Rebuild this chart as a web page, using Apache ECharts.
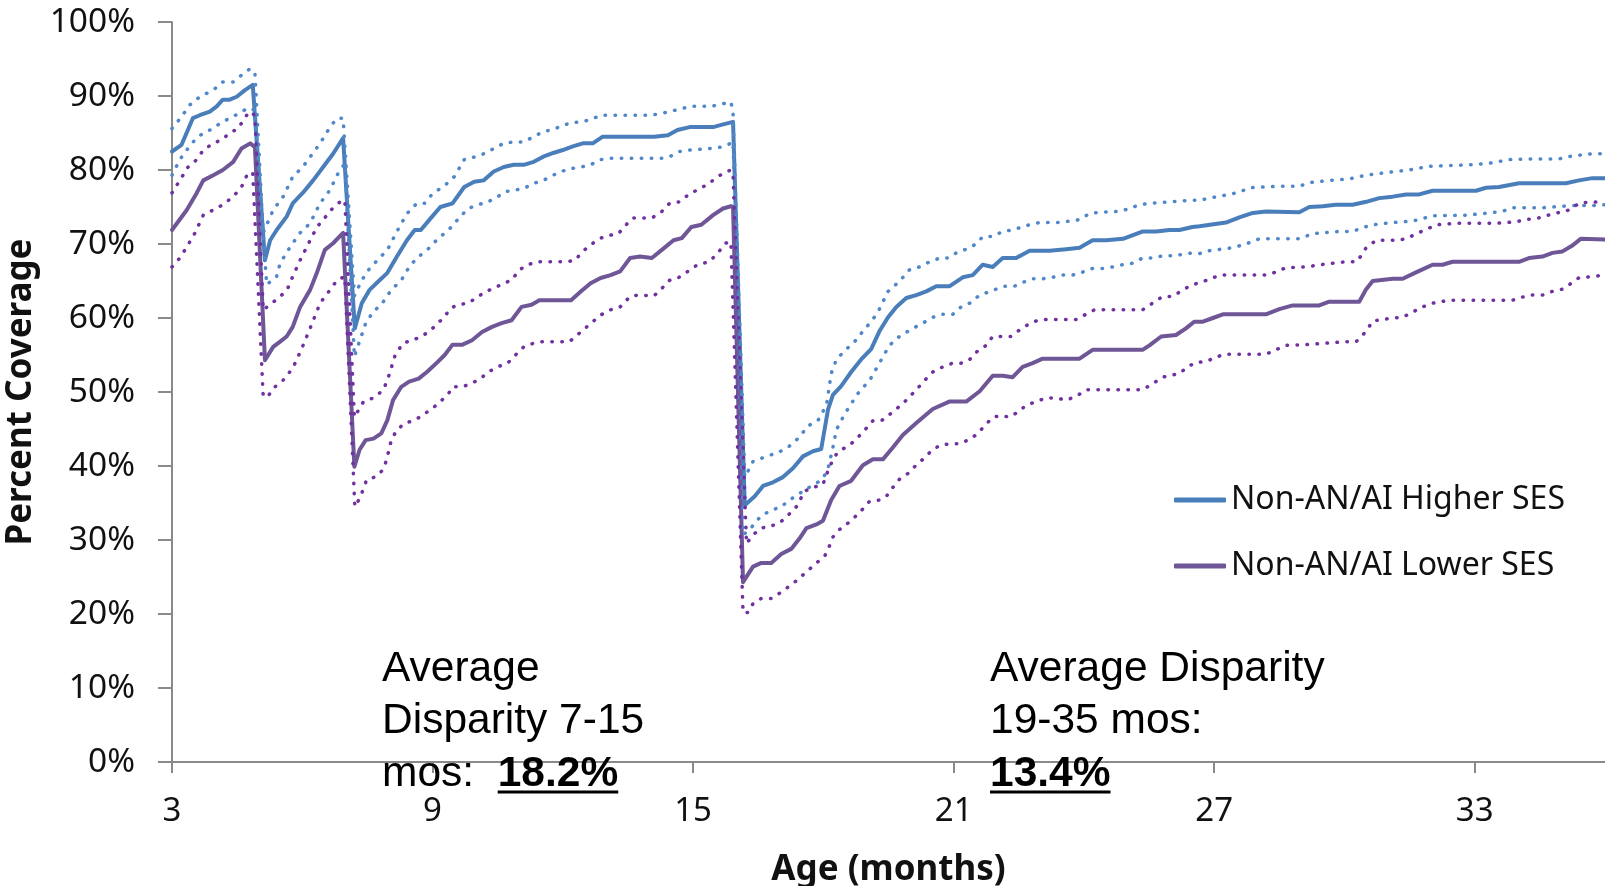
<!DOCTYPE html>
<html><head><meta charset="utf-8">
<script src="https://cdn.jsdelivr.net/npm/echarts@6/dist/echarts.min.js"></script>
<style>html,body{margin:0;padding:0;background:#fff}#c{width:1605px;height:886px}</style>
</head><body><div id="c"></div>
<script>
// ---- data (age in months, percent coverage) ----
const xTickValues = [3, 9, 15, 21, 27, 33];
const seriesNames = ['Non-AN/AI Higher SES', 'Non-AN/AI Lower SES'];

const higherSES = [[3.0,82.5],[3.22,83.4],[3.48,87.0],[3.64,87.4],[3.87,87.9],[4.03,88.6],[4.17,89.5],[4.33,89.5],[4.49,89.9],[4.68,90.8],[4.86,91.5],
[5.14,67.8],[5.26,70.5],[5.41,71.9],[5.64,73.7],[5.78,75.5],[6.01,76.9],[6.25,78.6],[6.52,80.7],[6.71,82.2],[6.94,84.3],
[7.21,58.6],[7.37,62.0],[7.55,63.8],[7.78,65.1],[7.96,66.1],[8.18,68.3],[8.41,70.5],[8.59,71.9],[8.73,71.9],[8.96,73.5],[9.18,75.0],[9.46,75.5],[9.73,77.7],[9.96,78.4],[10.18,78.6],[10.41,79.8],[10.64,80.4],[10.87,80.7],[11.1,80.7],[11.33,81.1],[11.55,81.8],[11.78,82.3],[12.0,82.7],[12.23,83.2],[12.46,83.6],[12.69,83.6],[12.92,84.5],[13.19,84.5],[13.64,84.5],[14.1,84.5],[14.42,84.7],[14.64,85.4],[14.92,85.8],[15.46,85.8],[15.65,86.1],[15.92,86.5],
[16.19,34.7],[16.42,35.9],[16.61,37.3],[16.84,37.8],[17.07,38.5],[17.3,39.7],[17.53,41.3],[17.76,42.0],[17.95,42.3],[18.11,47.7],[18.22,49.6],[18.41,50.8],[18.64,52.7],[18.87,54.4],[19.1,55.8],[19.29,58.2],[19.49,60.1],[19.68,61.5],[19.91,62.7],[20.14,63.1],[20.37,63.6],[20.6,64.3],[20.91,64.3],[21.21,65.5],[21.44,65.8],[21.67,67.2],[21.9,66.9],[22.13,68.1],[22.44,68.1],[22.75,69.1],[23.21,69.1],[23.59,69.3],[23.9,69.5],[24.2,70.5],[24.51,70.5],[24.9,70.7],[25.13,71.2],[25.36,71.7],[25.66,71.7],[25.97,71.9],[26.2,71.9],[26.5,72.3],[26.66,72.4],[27.27,72.9],[27.58,73.6],[27.89,74.2],[28.19,74.4],[28.96,74.3],[29.19,75.0],[29.5,75.1],[29.8,75.3],[30.19,75.3],[30.5,75.7],[30.8,76.2],[31.11,76.4],[31.42,76.7],[31.72,76.7],[32.03,77.2],[32.49,77.2],[33.03,77.2],[33.26,77.6],[33.56,77.7],[34.02,78.2],[34.48,78.2],[35.1,78.2],[35.4,78.6],[35.71,78.9],[36.0,78.9]];

const higherUpper = [[3.0,85.6],[3.22,87.2],[3.41,88.8],[3.64,89.9],[3.95,90.8],[4.17,91.9],[4.41,91.9],[4.6,92.8],[4.8,93.7],[4.91,93.1],
[5.1,71.5],[5.33,74.6],[5.56,76.4],[5.78,79.1],[6.01,80.4],[6.25,82.3],[6.41,83.6],[6.64,85.8],[6.8,87.0],[6.94,87.0],
[7.2,63.0],[7.37,65.1],[7.55,66.7],[7.73,67.8],[7.96,69.2],[8.18,71.7],[8.41,74.1],[8.64,75.5],[8.82,75.5],[9.0,76.8],[9.28,77.9],[9.5,79.1],[9.73,81.4],[10.0,81.8],[10.23,82.3],[10.41,82.9],[10.64,83.6],[10.87,83.8],[11.1,83.8],[11.33,84.5],[11.55,85.2],[11.73,85.4],[11.96,85.9],[12.19,86.4],[12.42,86.5],[12.64,86.8],[12.87,87.4],[13.1,87.4],[14.01,87.4],[14.24,87.6],[14.46,87.9],[14.74,88.3],[14.96,88.6],[15.42,88.6],[15.65,88.9],[15.87,89.2],[15.92,87.9],
[16.19,38.5],[16.38,40.6],[16.69,41.3],[16.95,41.8],[17.18,42.5],[17.45,43.9],[17.64,45.4],[17.87,46.1],[18.07,48.2],[18.18,52.5],[18.3,54.4],[18.53,55.8],[18.72,56.8],[18.91,58.2],[19.14,59.8],[19.29,61.2],[19.49,63.6],[19.76,65.0],[19.98,66.5],[20.21,66.9],[20.45,67.6],[20.68,68.1],[20.87,68.1],[21.06,68.8],[21.29,69.3],[21.52,70.0],[21.67,71.0],[21.9,71.0],[22.13,71.7],[22.36,71.9],[22.52,72.2],[22.75,72.6],[22.98,72.9],[23.44,72.9],[23.67,73.1],[23.9,73.3],[24.13,74.1],[24.36,74.3],[24.82,74.4],[25.05,74.8],[25.28,75.3],[25.51,75.5],[25.97,75.7],[26.43,75.9],[26.66,75.9],[26.89,76.2],[27.35,76.7],[27.58,77.0],[27.81,77.6],[28.5,77.8],[28.96,77.8],[29.19,78.3],[29.65,78.6],[30.11,78.8],[30.5,79.3],[31.03,79.7],[31.49,80.0],[31.95,80.5],[32.87,80.7],[33.33,80.9],[33.79,81.4],[34.25,81.5],[34.94,81.5],[35.25,81.9],[35.71,82.2],[36.0,82.2]];

const higherLower = [[3.0,79.3],[3.18,81.4],[3.34,82.7],[3.53,84.1],[3.72,85.0],[3.95,85.6],[4.1,86.3],[4.33,87.0],[4.56,87.7],[4.75,88.4],[4.91,88.1],
[5.18,64.5],[5.41,65.6],[5.49,67.4],[5.72,69.6],[5.95,71.5],[6.18,72.8],[6.41,75.5],[6.64,77.3],[6.8,79.3],[6.98,80.9],
[7.2,54.8],[7.46,59.3],[7.64,60.9],[7.82,61.8],[8.05,63.8],[8.28,65.1],[8.46,66.9],[8.64,68.1],[8.91,69.4],[9.14,70.8],[9.37,71.9],[9.64,73.7],[9.82,74.8],[10.05,75.3],[10.28,75.7],[10.5,76.4],[10.69,77.1],[10.91,77.3],[11.1,77.5],[11.33,78.2],[11.55,78.6],[11.78,79.3],[11.96,79.8],[12.19,80.2],[12.42,80.4],[12.64,80.7],[12.87,81.4],[13.1,81.6],[14.28,81.6],[14.46,81.8],[14.69,82.5],[14.92,82.7],[15.37,82.9],[15.65,83.1],[15.87,83.6],[15.92,83.8],
[16.15,30.7],[16.3,31.4],[16.57,33.3],[16.8,34.0],[17.03,34.5],[17.22,35.4],[17.41,36.1],[17.57,36.8],[17.8,37.5],[17.99,38.3],[18.11,39.7],[18.22,42.5],[18.3,44.9],[18.49,47.0],[18.64,48.4],[18.83,50.1],[19.06,51.5],[19.29,53.9],[19.52,56.3],[19.75,57.5],[20.06,58.6],[20.29,59.3],[20.52,60.1],[20.75,60.5],[20.98,60.5],[21.17,61.5],[21.37,62.0],[21.56,62.9],[21.75,63.4],[21.98,63.9],[22.17,64.3],[22.4,64.3],[22.59,64.8],[22.82,65.3],[23.05,65.3],[23.28,65.5],[23.51,65.8],[23.74,65.8],[23.97,66.2],[24.2,66.7],[24.43,66.7],[24.66,66.9],[24.89,67.2],[25.12,67.4],[25.35,68.1],[25.58,68.1],[25.81,68.4],[26.04,68.4],[26.27,68.6],[26.5,68.8],[26.66,68.7],[26.89,69.1],[27.43,69.5],[27.73,70.0],[28.04,70.7],[28.96,70.7],[29.27,71.4],[29.88,71.7],[30.19,71.7],[30.42,72.2],[30.65,72.6],[31.11,72.9],[31.57,73.1],[32.03,73.8],[32.79,73.9],[33.17,74.1],[33.63,74.4],[33.87,74.9],[34.56,74.9],[35.25,75.2],[35.71,75.2],[36.0,75.3]];

const lowerSES = [[3.0,71.9],[3.34,74.6],[3.57,76.9],[3.72,78.6],[3.95,79.3],[4.17,80.0],[4.41,81.1],[4.6,82.9],[4.8,83.6],[4.91,83.1],
[5.14,54.3],[5.33,56.1],[5.49,56.8],[5.64,57.5],[5.78,58.8],[5.95,61.5],[6.18,63.8],[6.33,66.0],[6.52,69.2],[6.71,70.1],[6.94,71.5],
[7.2,39.9],[7.32,42.2],[7.46,43.5],[7.64,43.7],[7.82,44.4],[7.96,46.2],[8.09,48.9],[8.28,50.7],[8.46,51.4],[8.68,51.8],[8.87,52.7],[9.09,53.9],[9.28,55.0],[9.46,56.4],[9.69,56.4],[9.91,57.0],[10.14,58.1],[10.37,58.8],[10.59,59.3],[10.82,59.7],[11.05,61.5],[11.28,61.8],[11.46,62.4],[11.73,62.4],[12.19,62.4],[12.42,63.6],[12.64,64.7],[12.87,65.4],[13.1,65.8],[13.32,66.3],[13.55,68.1],[13.78,68.3],[14.05,68.1],[14.28,69.2],[14.55,70.5],[14.74,70.8],[14.96,72.3],[15.19,72.6],[15.46,73.9],[15.69,74.8],[15.87,75.1],[15.92,75.0],
[16.15,24.3],[16.38,26.4],[16.57,26.9],[16.8,26.9],[17.03,28.1],[17.26,28.8],[17.45,30.2],[17.61,31.6],[17.84,32.1],[17.99,32.6],[18.18,35.4],[18.37,37.3],[18.64,38.0],[18.91,40.1],[19.14,40.9],[19.37,40.9],[19.6,42.5],[19.83,44.2],[20.14,45.8],[20.52,47.7],[20.9,48.7],[21.29,48.7],[21.6,50.1],[21.9,52.2],[22.13,52.2],[22.36,52.0],[22.59,53.4],[22.82,53.9],[23.05,54.5],[23.44,54.5],[23.9,54.5],[24.2,55.7],[24.59,55.7],[25.05,55.7],[25.35,55.7],[25.51,56.3],[25.78,57.5],[26.12,57.7],[26.35,58.6],[26.54,59.5],[26.74,59.5],[26.97,60.0],[27.2,60.5],[27.58,60.5],[28.19,60.5],[28.5,61.2],[28.81,61.7],[29.42,61.7],[29.65,62.2],[30.34,62.2],[30.5,63.9],[30.65,65.0],[31.11,65.3],[31.34,65.3],[31.66,66.2],[32.03,67.2],[32.26,67.2],[32.49,67.6],[34.02,67.6],[34.25,68.1],[34.56,68.3],[34.79,68.8],[35.02,69.0],[35.25,69.8],[35.44,70.7],[36.0,70.6]];

const lowerUpper = [[3.0,76.9],[3.18,78.6],[3.37,80.4],[3.57,81.4],[3.72,82.7],[3.95,83.6],[4.15,84.1],[4.33,85.0],[4.52,85.6],[4.72,87.4],[4.84,87.9],[4.91,87.2],
[5.1,61.1],[5.3,62.0],[5.49,62.9],[5.65,63.8],[5.78,65.6],[5.95,67.8],[6.18,70.5],[6.34,72.3],[6.57,73.9],[6.71,74.9],[6.91,75.9],[6.98,75.9],
[7.2,46.6],[7.41,48.7],[7.64,49.2],[7.87,50.3],[8.0,52.3],[8.14,55.0],[8.32,56.6],[8.55,57.0],[8.73,57.5],[8.91,58.1],[9.09,59.1],[9.28,60.2],[9.41,61.3],[9.59,61.8],[9.82,62.0],[10.0,62.7],[10.23,63.6],[10.41,64.0],[10.64,64.7],[10.82,65.1],[11.0,66.5],[11.19,67.2],[11.41,67.6],[12.1,67.6],[12.28,67.8],[12.46,69.0],[12.64,69.9],[12.87,70.8],[13.1,71.2],[13.28,71.4],[13.46,72.6],[13.6,73.5],[14.05,73.5],[14.28,74.4],[14.46,75.5],[14.69,75.7],[14.92,76.8],[15.1,77.3],[15.37,78.2],[15.56,79.1],[15.79,79.8],[15.87,80.0],[15.92,79.3],
[16.23,29.5],[16.38,30.7],[16.57,31.6],[16.8,31.9],[16.99,32.3],[17.18,33.3],[17.38,34.5],[17.57,36.6],[17.76,37.1],[17.99,37.5],[18.14,39.9],[18.3,41.6],[18.45,42.3],[18.64,43.0],[18.8,43.9],[18.99,45.1],[19.14,46.1],[19.33,46.1],[19.49,46.8],[19.68,47.7],[19.91,48.9],[20.14,50.3],[20.37,51.8],[20.52,52.7],[20.75,53.4],[20.98,53.9],[21.17,53.9],[21.37,54.4],[21.56,55.6],[21.75,56.3],[21.9,57.5],[22.32,57.5],[22.52,58.4],[22.71,59.1],[22.9,59.6],[23.13,59.8],[23.82,59.8],[24.05,60.5],[24.24,61.1],[25.35,61.1],[25.58,62.0],[25.81,62.9],[26.04,62.9],[26.2,63.5],[26.43,64.3],[26.66,64.8],[26.89,65.2],[27.12,65.8],[28.19,65.8],[28.42,66.2],[28.65,66.8],[29.11,66.9],[29.57,67.3],[30.03,67.6],[30.29,67.6],[30.5,69.5],[30.73,70.5],[31.19,70.5],[31.42,70.7],[31.66,71.4],[31.89,72.0],[32.12,72.6],[32.58,72.8],[33.49,72.8],[33.95,73.0],[34.18,73.3],[34.56,73.6],[34.79,74.1],[35.1,74.4],[35.44,75.6],[36.0,75.7]];

const lowerLower = [[3.0,66.9],[3.18,68.1],[3.34,69.6],[3.53,71.5],[3.72,73.9],[3.95,74.6],[4.17,75.3],[4.41,76.4],[4.6,77.7],[4.75,79.6],[4.86,79.6],
[5.1,49.4],[5.21,49.4],[5.33,50.5],[5.56,51.6],[5.78,53.2],[5.99,55.9],[6.18,58.6],[6.41,62.0],[6.64,63.8],[6.8,65.1],[6.98,65.6],
[7.21,34.5],[7.33,35.7],[7.48,38.1],[7.71,38.6],[7.86,39.5],[7.94,40.8],[8.05,43.5],[8.18,44.9],[8.37,45.8],[8.59,46.2],[8.78,46.9],[9.0,47.8],[9.18,48.7],[9.37,49.8],[9.46,50.7],[9.69,50.7],[9.91,51.2],[10.1,51.8],[10.28,52.7],[10.5,53.4],[10.73,53.9],[10.91,55.0],[11.1,56.1],[11.33,56.6],[11.51,56.8],[12.15,56.8],[12.33,57.7],[12.51,58.6],[12.69,59.5],[12.87,60.4],[13.1,61.1],[13.32,61.5],[13.55,62.9],[13.74,63.1],[14.1,63.0],[14.28,64.0],[14.46,65.1],[14.65,65.4],[14.88,66.3],[15.1,67.2],[15.37,67.6],[15.56,68.7],[15.74,70.1],[15.87,70.3],
[16.15,20.2],[16.26,20.2],[16.38,21.4],[16.57,22.1],[16.8,22.1],[16.99,22.8],[17.18,23.6],[17.38,24.5],[17.61,25.7],[17.84,26.9],[18.03,27.8],[18.14,29.2],[18.22,30.4],[18.37,31.4],[18.57,32.3],[18.76,33.3],[18.91,34.2],[19.06,35.2],[19.29,35.4],[19.45,35.9],[19.6,37.1],[19.75,38.2],[19.95,39.0],[20.1,39.9],[20.29,40.9],[20.48,42.0],[20.68,42.8],[20.91,43.0],[21.14,43.0],[21.33,43.5],[21.52,44.2],[21.71,45.4],[21.9,46.6],[22.1,46.8],[22.29,46.6],[22.48,47.3],[22.67,48.2],[22.9,48.7],[23.13,49.2],[23.36,49.2],[23.59,48.9],[23.82,49.4],[24.05,50.3],[25.35,50.3],[25.58,51.1],[25.81,52.0],[26.2,52.5],[26.39,53.4],[26.58,54.0],[26.81,54.1],[27.0,54.6],[27.23,55.1],[28.19,55.1],[28.42,55.7],[28.65,56.3],[29.11,56.4],[29.57,56.6],[30.03,56.8],[30.27,56.8],[30.5,58.2],[30.65,59.6],[31.11,60.0],[31.34,60.1],[31.57,60.8],[31.8,61.5],[32.03,62.0],[32.41,62.4],[33.87,62.4],[34.25,63.1],[34.56,63.1],[34.79,63.6],[35.02,63.9],[35.25,64.8],[35.39,65.4],[36.0,65.8]];

const note1Text = 'Average\nDisparity 7-15\nmos:  ';
const note1Value = '18.2%';
const note2Text = 'Average Disparity\n19-35 mos:\n';
const note2Value = '13.4%';

// ---- styles ----
const BLUE = '#4a7ebb', BLUE_DOT = '#4f87c8', PURPLE = '#6f5697', PURPLE_DOT = '#7030a0';
const AXIS = '#8a8a8a';
const NF = '"Liberation Sans", Arial, sans-serif';
const TF = '"Noto Sans", sans-serif';

const ctx = document.createElement('canvas').getContext('2d');
function tw(t, font) { ctx.font = font; return ctx.measureText(t).width; }

function solid(name, data, color) {
  return { name, type: 'line', data, showSymbol: false, symbol: 'none', animation: false,
    lineStyle: { color, width: 4, cap: 'round', join: 'round' }, itemStyle: { color } };
}
function dotted(name, data, color) {
  return { name, type: 'line', data, showSymbol: false, symbol: 'none', animation: false,
    lineStyle: { color, width: 3.5, type: [0.5, 9.5], cap: 'round', join: 'round' }, itemStyle: { color } };
}

const chart = echarts.init(document.getElementById('c'), null, { renderer: 'canvas' });

const fs = 42.5, lh = 52.5, noteTop = 643;
const n1x = 382, n2x = 990;
const prefixW = tw('mos:  ', fs + 'px ' + NF);
const v1W = tw(note1Value, 'bold ' + fs + 'px ' + NF);
const v2W = tw(note2Value, 'bold ' + fs + 'px ' + NF);
const underlineY = 790.5;

const richB = { fontWeight: 'bold', fontSize: fs, fontFamily: NF, lineHeight: lh, fill: '#000' };

chart.setOption({
  backgroundColor: '#fff',
  animation: false,
  grid: { left: 172, right: 0, top: 22, bottom: 124, containLabel: false, outerBoundsMode: 'none' },
  legend: {
    data: seriesNames, orient: 'vertical', left: 1169, top: 479, itemGap: 34,
    icon: 'roundRect', itemWidth: 52, itemHeight: 5, selectedMode: false,
    textStyle: { fontFamily: TF, fontSize: 32, lineHeight: 32, color: '#111' }
  },
  xAxis: {
    type: 'value', min: 3, max: 36,
    name: 'Age (months)', nameLocation: 'middle', nameGap: 91,
    nameTextStyle: { fontFamily: TF, fontSize: 35, fontWeight: 'bold', color: '#111' },
    axisLine: { show: true, lineStyle: { color: AXIS, width: 2 } },
    axisTick: { show: true, length: 11, lineStyle: { color: AXIS, width: 2 }, customValues: xTickValues },
    axisLabel: { customValues: xTickValues, margin: 33, fontFamily: TF, fontSize: 33, color: '#111' },
    splitLine: { show: false }
  },
  yAxis: {
    type: 'value', min: 0, max: 100, interval: 10,
    name: 'Percent Coverage', nameLocation: 'middle', nameGap: 129,
    nameTextStyle: { fontFamily: TF, fontSize: 35, fontWeight: 'bold', color: '#111' },
    axisLine: { show: true, lineStyle: { color: AXIS, width: 2 } },
    axisTick: { show: true, length: 14, lineStyle: { color: AXIS, width: 2 } },
    axisLabel: { formatter: '{value}%', margin: 37, fontFamily: TF, fontSize: 33.5, color: '#111' },
    splitLine: { show: false }
  },
  series: [
    solid(seriesNames[0], higherSES, BLUE),
    solid(seriesNames[1], lowerSES, PURPLE),
    dotted('Higher SES upper', higherUpper, BLUE_DOT),
    dotted('Higher SES lower', higherLower, BLUE_DOT),
    dotted('Lower SES upper', lowerUpper, PURPLE_DOT),
    dotted('Lower SES lower', lowerLower, PURPLE_DOT)
  ],
  graphic: [
    { type: 'text', x: n1x, y: noteTop, z: 100,
      style: { text: note1Text + '{b|' + note1Value + '}', fontFamily: NF, fontSize: fs, lineHeight: lh,
        fill: '#000', align: 'left', verticalAlign: 'top', rich: { b: richB } } },
    { type: 'rect', z: 100, shape: { x: n1x + prefixW, y: underlineY, width: v1W, height: 3 }, style: { fill: '#000' } },
    { type: 'text', x: n2x, y: noteTop, z: 100,
      style: { text: note2Text + '{b|' + note2Value + '}', fontFamily: NF, fontSize: fs, lineHeight: lh,
        fill: '#000', align: 'left', verticalAlign: 'top', rich: { b: richB } } },
    { type: 'rect', z: 100, shape: { x: n2x, y: underlineY, width: v2W, height: 3 }, style: { fill: '#000' } }
  ]
});
</script>
</body></html>
